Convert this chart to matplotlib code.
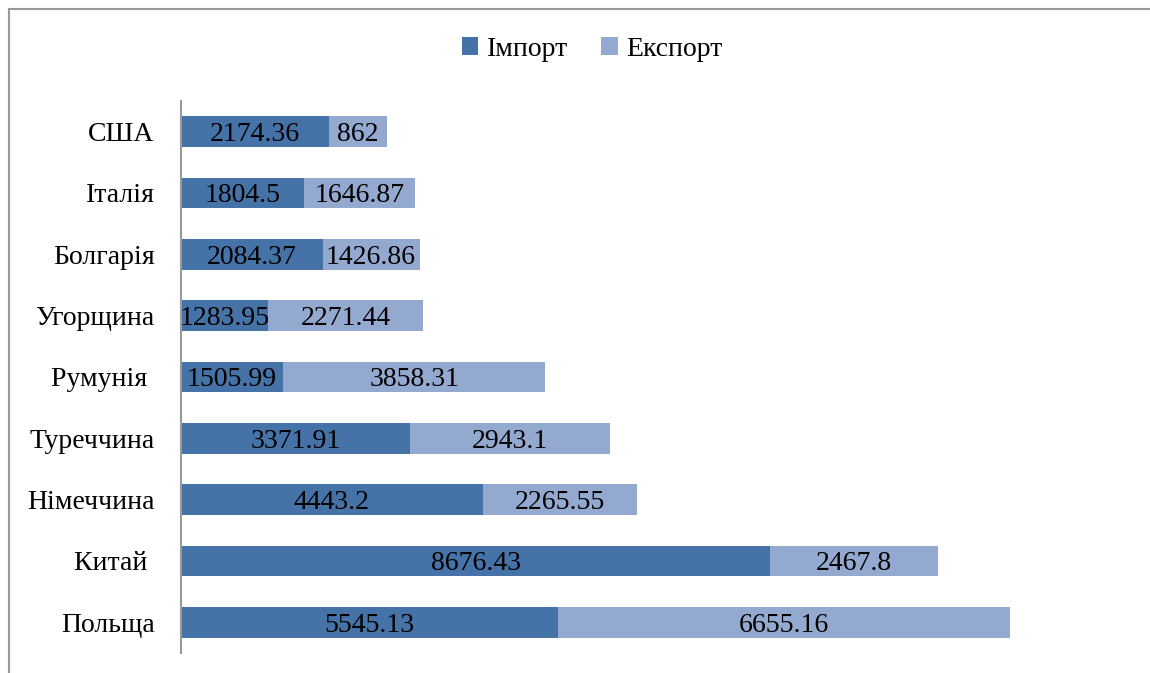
import matplotlib
matplotlib.use("Agg")
import matplotlib.pyplot as plt
from matplotlib.patches import Rectangle

categories = ["Польща", "Китай ", "Німеччина", "Туреччина", "Румунія ", "Угорщина", "Болгарія", "Італія", "США"]
imports = [5545.13, 8676.43, 4443.2, 3371.91, 1505.99, 1283.95, 2084.37, 1804.5, 2174.36]
exports = [6655.16, 2467.8, 2265.55, 2943.1, 3858.31, 2271.44, 1426.86, 1646.87, 862]
import_labels = ["5545.13", "8676.43", "4443.2", "3371.91", "1505.99", "1283.95", "2084.37", "1804.5", "2174.36"]
export_labels = ["6655.16", "2467.8", "2265.55", "2943.1", "3858.31", "2271.44", "1426.86", "1646.87", "862"]
series_names = ["Імпорт", "Експорт"]

plt.rcParams['font.family'] = ['Liberation Serif', 'DejaVu Serif']

W, H = 1150, 673
fig = plt.figure(figsize=(W / 100, H / 100), dpi=100)

# outer frame
fig.patches.append(Rectangle((9 / W, -0.1), 1.2, 1 - 9 / H + 0.1, transform=fig.transFigure,
                             fill=False, edgecolor="#999999", linewidth=1.5))

left, right = 181, 1132
top, bottom = 101, 653
ax = fig.add_axes([left / W, 1 - bottom / H, (right - left) / W, (bottom - top) / H])

c_imp = "#4572A7"
c_exp = "#93A9CF"
y = list(range(len(categories)))
b1 = ax.barh(y, imports, height=0.5, color=c_imp, label=series_names[0])
b2 = ax.barh(y, exports, left=imports, height=0.5, color=c_exp, label=series_names[1])

for i in y:
    ax.text(imports[i] / 2, i, import_labels[i], ha="center", va="center_baseline", fontsize=20, color="black")
    ax.text(imports[i] + exports[i] / 2, i, export_labels[i], ha="center", va="center_baseline", fontsize=20, color="black")

ax.set_xlim(0, 14000)
ax.set_ylim(-0.5, len(categories) - 0.5)
ax.set_yticks(y)
ax.set_yticklabels(categories, fontsize=20)
ax.tick_params(axis="y", length=0, pad=19)
ax.set_xticks([])
for s in ["top", "right", "bottom"]:
    ax.spines[s].set_visible(False)
ax.spines["left"].set_color("#999999")
ax.spines["left"].set_linewidth(1.5)

fig.legend(handles=[b1, b2], labels=series_names, loc="center", bbox_to_anchor=(592 / W, 1 - 49 / H),
           ncol=2, frameon=False, fontsize=20, handlelength=0.6, handleheight=0.6,
           handletextpad=0.3, columnspacing=1.2)

fig.savefig("out.png", dpi=100)
